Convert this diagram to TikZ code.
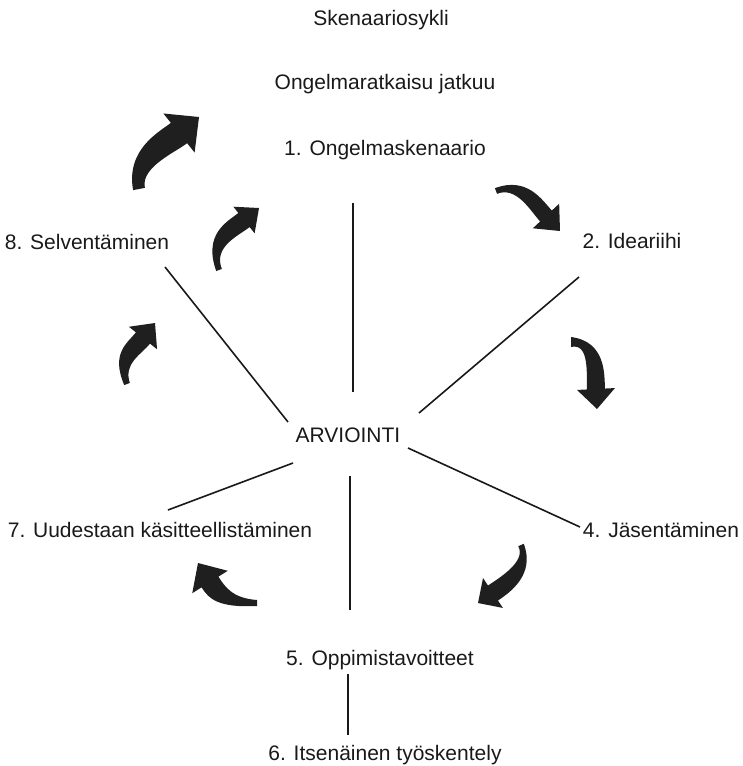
\documentclass[tikz,border=0pt]{standalone}
\usepackage{fontspec}
\setmainfont{Liberation Sans}
\usetikzlibrary{calc}

\tikzset{
  lbl/.style={anchor=base, inner sep=0pt, font=\fontsize{21}{25}\selectfont, text=black!90},
  spoke/.style={line width=1.6pt, black!90},
  arrowfill/.style={fill=black!88},
}

% Curved block arrow: #1 tail centre, #2 bend control, #3 neck centre,
% #4 head tip, #5 half shaft width, #6 half head width, #7 half tail width
\newcommand\curvarrow[7]{%
  \coordinate (aT) at #1;
  \coordinate (aC) at #2;
  \coordinate (aN) at #3;
  \coordinate (aP) at #4;
  \coordinate (aL) at ($(aN)!#5!90:(aP)$);
  \coordinate (aR) at ($(aN)!#5!-90:(aP)$);
  \coordinate (aBL) at ($(aN)!#6!90:(aP)$);
  \coordinate (aBR) at ($(aN)!#6!-90:(aP)$);
  \coordinate (aTL) at ($(aT)!#7!90:(aC)$);
  \coordinate (aTR) at ($(aT)!#7!-90:(aC)$);
  \coordinate (aD) at ($(aN)!-14pt!(aP)$);
  \fill[arrowfill] (aTR) -- (aTL)
    .. controls ($(aC)+0.9*(aL)-0.9*(aN)$) and ($(aD)+(aL)-(aN)$) .. (aL)
    -- (aBL) -- (aP) -- (aBR) -- (aR)
    .. controls ($(aD)+(aR)-(aN)$) and ($(aC)+0.9*(aR)-0.9*(aN)$) .. (aTR)
    -- cycle;
}

\begin{document}
\begin{tikzpicture}[x=1pt, y=-1pt]
  \useasboundingbox (0,0) rectangle (743,766);

  % labels
  \node[lbl] (title) at (381,25) {Skenaariosykli};
  \node[lbl] (cont)  at (385,89) {Ongelmaratkaisu jatkuu};
  \node[lbl] (s1)    at (385,155) {1. Ongelmaskenaario};
  \node[lbl] (s2)    at (632,248) {2. Ideariihi};
  \node[lbl] (s8)    at (87,249) {8. Selventäminen};
  \node[lbl] (ev)    at (348,442) {ARVIOINTI};
  \node[lbl] (s7)    at (160,537) {7. Uudestaan käsitteellistäminen};
  \node[lbl] (s4)    at (661,537) {4. Jäsentäminen};
  \node[lbl] (s5)    at (380,665) {5. Oppimistavoitteet};
  \node[lbl] (s6)    at (385,760) {6. Itsenäinen työskentely};

  % spoke end points
  \coordinate (e1a) at (353,203); \coordinate (e1b) at (353,392);
  \coordinate (e8a) at (165,267); \coordinate (e8b) at (288,422);
  \coordinate (e2a) at (579,277); \coordinate (e2b) at (419,413);
  \coordinate (e4a) at (408,448); \coordinate (e4b) at (580,527);
  \coordinate (e7a) at (293,463); \coordinate (e7b) at (168,510);
  \coordinate (e5a) at (350,476); \coordinate (e5b) at (350,610);
  \coordinate (e6a) at (348,674); \coordinate (e6b) at (348,735);

  \draw[spoke] (e1a) -- (e1b);
  \draw[spoke] (e8a) -- (e8b);
  \draw[spoke] (e2a) -- (e2b);
  \draw[spoke] (e4a) -- (e4b);
  \draw[spoke] (e7a) -- (e7b);
  \draw[spoke] (e5a) -- (e5b);
  \draw[spoke] (e6a) -- (e6b);

  % cycle arrows
  \curvarrow{(139,189)}{(133,158)}{(179,133)}{(199,117)}{13pt}{25pt}{6pt}
  \curvarrow{(496,191)}{(522,181)}{(546,216)}{(560,231)}{8pt}{18pt}{3pt}
  \curvarrow{(571,342)}{(598,342)}{(596,389)}{(597,409)}{9pt}{19pt}{5pt}
  \curvarrow{(521,545)}{(531,568)}{(493,593)}{(478,603)}{9pt}{18pt}{3pt}
  \curvarrow{(257,603)}{(226,603)}{(210,582)}{(198,563)}{10pt}{21pt}{3pt}
  \curvarrow{(127,384)}{(117,358)}{(143,338)}{(155,323)}{9pt}{18pt}{3pt}
  \curvarrow{(219,270)}{(208,240)}{(244,220)}{(259,208)}{9pt}{17pt}{3pt}
\end{tikzpicture}
\end{document}
